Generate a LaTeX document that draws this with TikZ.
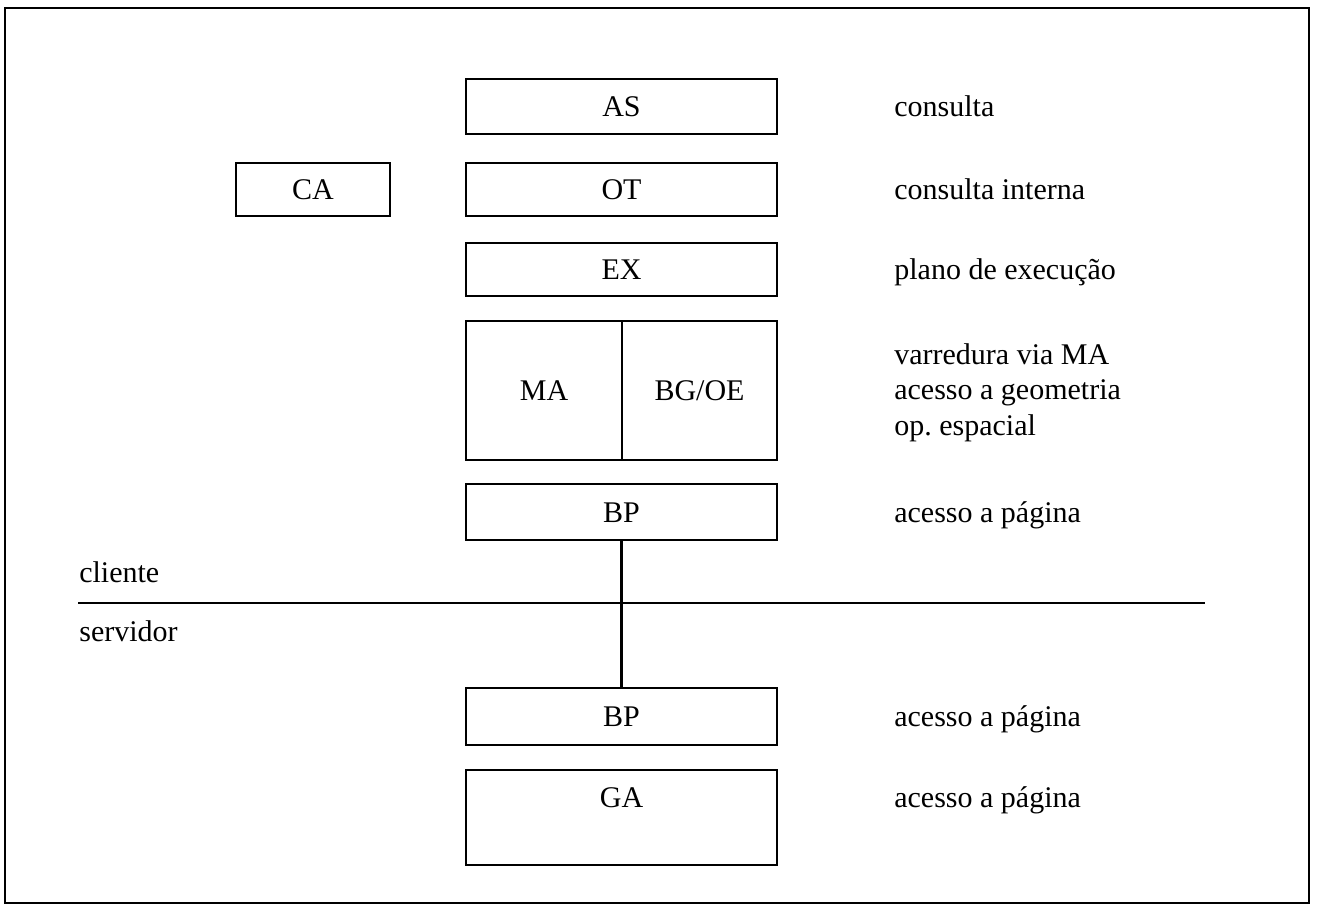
\documentclass[tikz,border=0pt]{standalone}
\usepackage{fontspec}
\setmainfont{Liberation Serif}

\tikzset{every picture/.style={line width=2pt}}
\tikzset{
  layer/.style={draw, inner sep=0pt, outer sep=0pt, minimum width=233.25pt, text height=18pt, text depth=3pt, font=\fontsize{22.5}{26.5}\selectfont},
  note/.style={anchor=west, inner sep=0pt, text height=18pt, text depth=3pt, font=\fontsize{22.5}{26.5}\selectfont},
  notes/.style={anchor=base west, inner sep=0pt, align=left, font=\fontsize{22.5}{26.5}\selectfont}
}

\begin{document}
\begin{tikzpicture}[x=0.75pt,y=0.75pt,yscale=-1,xscale=1]
\useasboundingbox (0,0) rectangle (1319,911);

%Frame
\draw (5,8) rectangle (1309,903);

%Layers, client side
\node [layer, minimum height=41.25pt] (as) at (621.5,106.5) {AS};
\node [layer, minimum height=39.75pt, minimum width=115.5pt] (ca) at (313,189.5) {CA};
\node [layer, minimum height=39.75pt] (ot) at (621.5,189.5) {OT};
\node [layer, minimum height=39.75pt] (ex) at (621.5,269.5) {EX};
\node [layer, minimum height=104.25pt, minimum width=117pt] (ma) at (544,390.5) {MA};
\node [layer, minimum height=104.25pt, minimum width=116.25pt] (bgoe) at (699.5,390.5) {BG/OE};
\node [layer, minimum height=42pt] (bpc) at (621.5,512) {BP};

%Layers, server side
\node [layer, minimum height=42.75pt] (bps) at (621.5,716.5) {BP};
\node [layer, minimum height=71.25pt, text depth=33pt] (ga) at (621.5,817.5) {GA};

\draw (bpc.south) -- (bps.north);

%Client / server split
\coordinate (sepL) at (78,603);
\coordinate (sepR) at (1205,603);
\draw (sepL) -- (sepR);
\node [note] (cli) at (78,572) {cliente};
\node [note] (srv) at (78,631) {servidor};

% Text Nodes
\node [note] (t1) at (893,106.5) {consulta};
\node [note] (t2) at (893,189.5) {consulta interna};
\node [note] (t3) at (893,269.5) {plano de execução};
\node [notes] (t4) at (893,435) {varredura via MA\\acesso a geometria\\op.\ espacial};
\node [note] (t5) at (893,512) {acesso a página};
\node [note] (t6) at (893,716.5) {acesso a página};
\node [note] (t7) at (893,797) {acesso a página};

\end{tikzpicture}
\end{document}
